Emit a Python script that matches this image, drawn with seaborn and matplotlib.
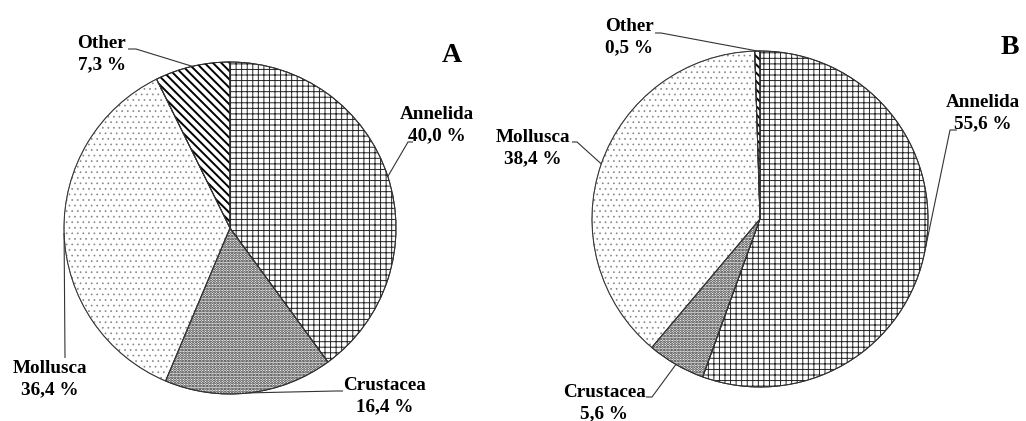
import matplotlib
matplotlib.use("Agg")
import numpy as np
import matplotlib.pyplot as plt
import seaborn as sns

# ---- data ----
categories = ["Annelida", "Crustacea", "Mollusca", "Other"]
share_a = [40.0, 16.4, 36.4, 7.3]
share_b = [55.6, 5.6, 38.4, 0.5]
panel_names = ["A", "B"]

# ---- style ----
hatches = ["+++", "......", "...", "\\\\\\\\"]
hatch_colors = ["#222222", "#222222", "#888888", "#000000"]
hatch_widths = [0.7, 1.35, 0.5, 1.4]
sns.set_theme(style="white")
plt.rcParams["font.family"] = ["Liberation Serif", "DejaVu Serif"]
plt.rcParams["hatch.linewidth"] = 0.7

W, H = 1026, 421
fig = plt.figure(figsize=(W / 100, H / 100), dpi=100)
ax = fig.add_axes([0, 0, 1, 1])

# layout (pixel coords, y down): pie centre/radius, panel letter, label centres, leader elbows
layouts = [
    dict(center=(230, 228), radius=166, letter=(452, 56),
         labels=[(437, 125), (385, 396), (50, 379), (102, 54)],
         elbows=[[(413, 142), (408, 142)],
                 [(343, 391), (336, 391)],
                 [(65, 358)],
                 [(128, 49), (136, 49)]]),
    dict(center=(760, 219), radius=168, letter=(1010, 47),
         labels=[(983, 113), (604, 403), (533, 148), (629, 37)],
         elbows=[[(957, 130), (950, 130)],
                 [(646, 397), (652, 397)],
                 [(572, 142), (577, 142)],
                 [(655, 33), (661, 33)]]),
]

def fmt(v):
    return f"{v:.1f}".replace(".", ",") + " %"

for values, name, lay in zip([share_a, share_b], panel_names, layouts):
    cx, cy = lay["center"]
    r = lay["radius"]
    wedges, _ = ax.pie(values, center=(cx, H - cy), radius=r, startangle=90,
                       counterclock=False, colors=["white"] * len(values),
                       hatch=hatches,
                       wedgeprops=dict(edgecolor="black", linewidth=0.7))
    for w, hc, hw in zip(wedges, hatch_colors, hatch_widths):
        w.set_edgecolor(hc)
        if hasattr(w, "set_hatch_linewidth"):
            w.set_hatch_linewidth(hw)
    # outline drawn again on top in a uniform dark grey
    ax.pie(values, center=(cx, H - cy), radius=r, startangle=90,
           counterclock=False, colors=["none"] * len(values),
           wedgeprops=dict(edgecolor="#333333", linewidth=0.7, fill=False))
    for w, cat, v, (tx, ty), elb in zip(wedges, categories, values,
                                        lay["labels"], lay["elbows"]):
        mid = np.deg2rad((w.theta1 + w.theta2) / 2)
        ex, ey = cx + r * np.cos(mid), (H - cy) + r * np.sin(mid)
        xs = [p[0] for p in elb] + [ex]
        ys = [H - p[1] for p in elb] + [ey]
        ax.plot(xs, ys, color="#333333", lw=0.8, solid_capstyle="butt")
        ax.text(tx, H - ty, f"{cat}\n{fmt(v)}", ha="center", va="center",
                fontsize=13.8, fontweight="bold", linespacing=1.35,
                color="black")
    lx, ly = lay["letter"]
    ax.text(lx, H - ly, name, ha="center", va="center", fontsize=20,
            fontweight="bold", color="black")

ax.set_xlim(0, W)
ax.set_ylim(0, H)
ax.set_axis_off()
fig.savefig("out.png", dpi=100)
